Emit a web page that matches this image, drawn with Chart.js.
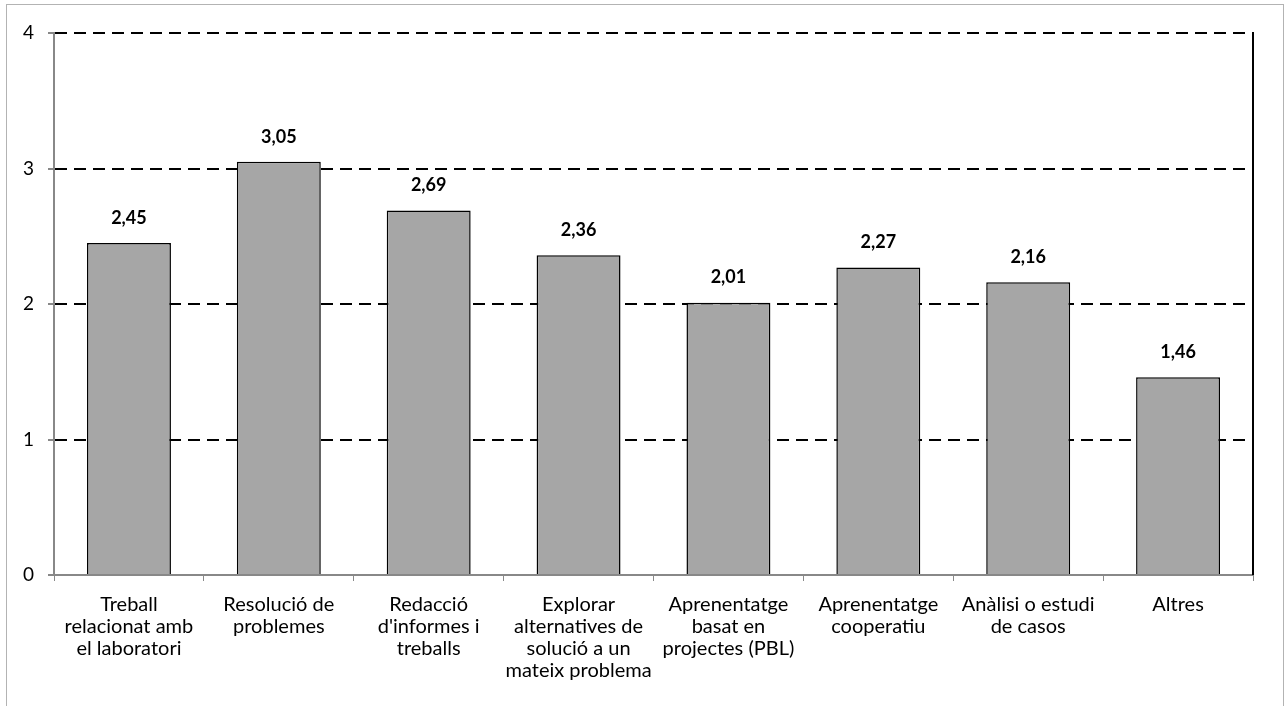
<!DOCTYPE html>
<html>
<head>
<meta charset="utf-8">
<script src="https://cdn.jsdelivr.net/npm/chart.js@4/dist/chart.umd.min.js"></script>
<style>
  body { margin: 0; background: #fff; }
  #frame { position: absolute; left: 6px; top: 4px; width: 1276px; height: 720px; border: 1px solid #b3b3b3; }
  #wrap { position: absolute; left: 0; top: 0; width: 1287px; height: 706px; }
</style>
</head>
<body>
<div id="frame"></div>
<div id="wrap"><canvas id="bar_chart"></canvas></div>
<script>
const categories = [
    ["Treball", "relacionat amb", "el laboratori"],
    ["Resolució de", "problemes"],
    ["Redacció", "d'informes i", "treballs"],
    ["Explorar", "alternatives de", "solució a un", "mateix problema"],
    ["Aprenentatge", "basat en", "projectes (PBL)"],
    ["Aprenentatge", "cooperatiu"],
    ["Anàlisi o estudi", "de casos"],
    ["Altres"]
];
const values = [2.45, 3.05, 2.69, 2.36, 2.01, 2.27, 2.16, 1.46];
const yTicks = [0, 1, 2, 3, 4];

const fontName = "Lato, 'Open Sans', sans-serif";

/** writes the value over each bar, with a comma as decimal mark */
const barLabels = {
    id: "barLabels",
    afterDatasetsDraw(chart) {
        const ctx = chart.ctx;
        const meta = chart.getDatasetMeta(0);
        ctx.save();
        ctx.font = "bold 18px " + fontName;
        ctx.fillStyle = "#000";
        ctx.textAlign = "center";
        ctx.textBaseline = "bottom";
        meta.data.forEach((bar, i) => {
            ctx.fillText(values[i].toFixed(2).replace(".", ","), bar.x, bar.y - 16);
        });
        ctx.restore();
    }
};

/** solid line on the right side of the plot area */
const rightEdge = {
    id: "rightEdge",
    afterDraw(chart) {
        const a = chart.chartArea;
        const ctx = chart.ctx;
        ctx.save();
        ctx.strokeStyle = "#000";
        ctx.lineWidth = 2;
        ctx.beginPath();
        ctx.moveTo(a.right, a.top - 1);
        ctx.lineTo(a.right, a.bottom);
        ctx.stroke();
        ctx.restore();
    }
};

new Chart(document.getElementById("bar_chart"), {
    type: "bar",
    data: {
        labels: categories,
        datasets: [{
            data: values,
            backgroundColor: "#a6a6a6",
            borderColor: "#000",
            borderWidth: 1.5,
            barPercentage: 0.56,
            categoryPercentage: 1
        }]
    },
    options: {
        responsive: true,
        maintainAspectRatio: false,
        animation: false,
        layout: { padding: { left: 0, top: 33, right: 34, bottom: 0 } },
        plugins: {
            legend: { display: false },
            tooltip: { enabled: false }
        },
        scales: {
            x: {
                afterFit: s => { s.height = 131; },
                grid: {
                    offset: true,
                    drawOnChartArea: false,
                    drawTicks: true,
                    tickLength: 6,
                    color: "#888"
                },
                border: { color: "#888", width: 2 },
                ticks: {
                    color: "#000",
                    padding: 13,
                    maxRotation: 0,
                    autoSkip: false,
                    font: { family: fontName, size: 20, lineHeight: 1.1 }
                }
            },
            y: {
                min: 0,
                max: 4,
                afterFit: s => { s.width = 54; },
                afterBuildTicks: s => { s.ticks = yTicks.map(v => ({ value: v })); },
                grid: {
                    color: c => c.tick && c.tick.value === 0 ? "rgba(0,0,0,0)" : "#000",
                    lineWidth: 2,
                    drawTicks: true,
                    tickLength: 6,
                    tickColor: "#888",
                    tickBorderDash: [],
                },
                border: { color: "#888", width: 2, dash: [12, 7] },
                ticks: {
                    color: "#000",
                    padding: 14,
                    font: { family: fontName, size: 19 }
                }
            }
        }
    },
    plugins: [barLabels, rightEdge]
});
</script>
</body>
</html>
